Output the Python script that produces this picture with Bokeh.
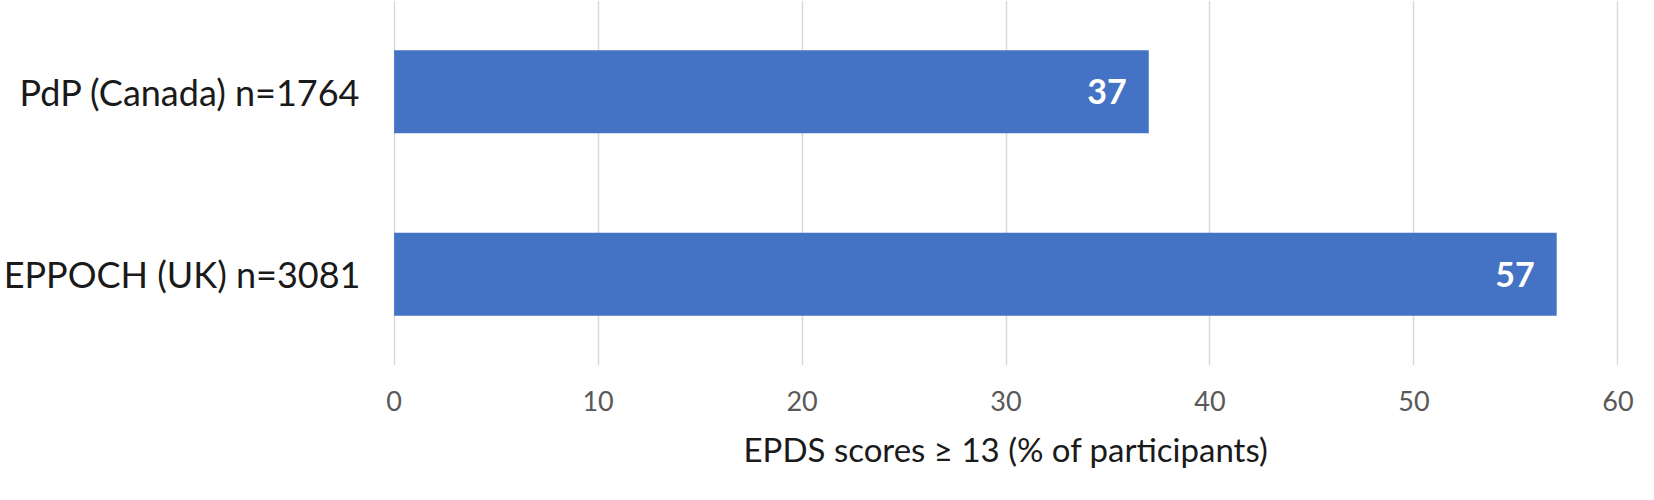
from bokeh.plotting import figure
from bokeh.models import ColumnDataSource, FactorRange, Range1d, FixedTicker
from bokeh.embed import file_html
from bokeh.resources import INLINE
from bokeh.core.properties import value

# data
categories = ["PdP (Canada) n=1764", "EPPOCH (UK) n=3081"]
values = [37, 57]
x_ticks = [0, 10, 20, 30, 40, 50, 60]
x_title = "EPDS scores \u2265 13 (% of participants)"

FONT = "Lato"
BAR = "#4472C4"

src = ColumnDataSource(dict(cat=categories, val=values, lab=[str(v) for v in values]))

p = figure(width=1638, height=484, output_backend="svg", toolbar_location=None,
           y_range=FactorRange(*categories[::-1]), x_range=Range1d(-0.03, 60.03),
           min_border_left=375, min_border_right=20, min_border_top=0, min_border_bottom=119)
p.outline_line_color = None
p.background_fill_color = "white"

p.hbar(y="cat", right="val", left=0, height=0.455, source=src, fill_color=BAR, line_color=None)
p.text(x="val", y="cat", text="lab", source=src, x_offset=-22, text_align="right",
       text_baseline="middle", text_color="white", text_font=value(FONT),
       text_font_style="bold", text_font_size="34px")

p.xaxis.ticker = FixedTicker(ticks=x_ticks)
p.xaxis.axis_line_color = None
p.xaxis.major_tick_line_color = None
p.xaxis.minor_tick_line_color = None
p.xaxis.major_label_text_font = FONT
p.xaxis.major_label_text_font_size = "27px"
p.xaxis.major_label_text_color = "#595959"
p.xaxis.major_label_standoff = 19
p.xaxis.axis_label = x_title
p.xaxis.axis_label_text_font = FONT
p.xaxis.axis_label_text_font_size = "33px"
p.xaxis.axis_label_text_font_style = "normal"
p.xaxis.axis_label_text_color = "#1a1a1a"
p.xaxis.axis_label_standoff = 15

p.yaxis.axis_line_color = None
p.yaxis.major_tick_line_color = None
p.yaxis.minor_tick_line_color = None
p.yaxis.major_label_text_font = FONT
p.yaxis.major_label_text_font_size = "36px"
p.yaxis.major_label_text_color = "#1a1a1a"
p.yaxis.major_label_standoff = 27

p.xgrid.grid_line_color = "#D9D9D9"
p.xgrid.grid_line_width = 1.5
p.ygrid.grid_line_color = None

open("out.html", "w").write(file_html(p, INLINE))
